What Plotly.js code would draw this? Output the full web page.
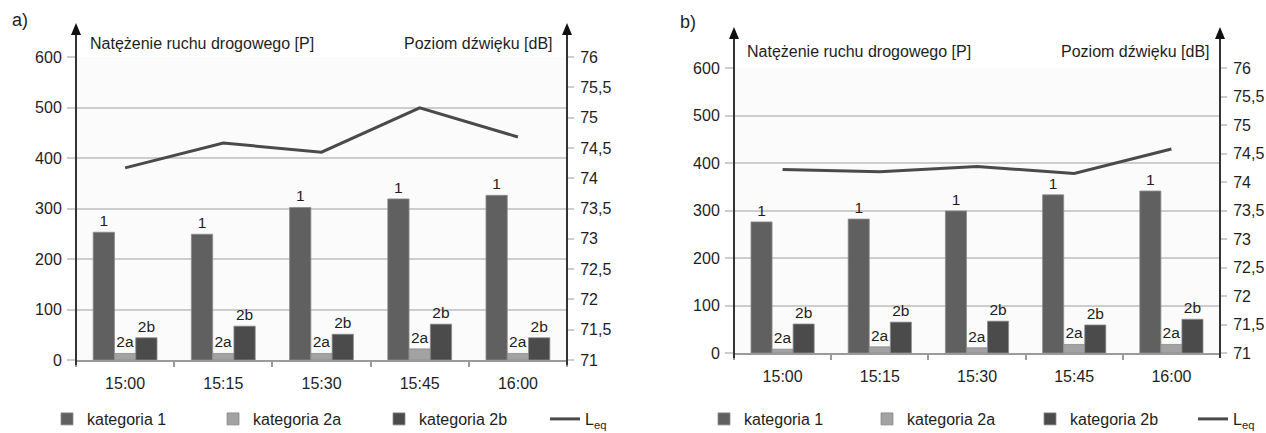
<!DOCTYPE html>
<html>
<head>
<meta charset="utf-8">
<script src="https://cdn.plot.ly/plotly-3.0.1.min.js"></script>
<style>html,body{margin:0;padding:0;background:#fff;}#chart{width:1266px;height:433px;}</style>
</head>
<body>
<div id="chart"></div>
<script>
// ---- data ----
const times = ['15:00', '15:15', '15:30', '15:45', '16:00'];

// panel a)
const a_kat1  = [253, 249, 302, 319, 326];
const a_kat2a = [13, 13, 13, 22, 13];
const a_kat2b = [44, 67, 51, 71, 44];
const a_leq   = [74.17, 74.58, 74.43, 75.16, 74.68];

// panel b)
const b_kat1  = [276, 282, 299, 333, 341];
const b_kat2a = [8, 13, 11, 18, 18];
const b_kat2b = [61, 65, 67, 59, 71];
const b_leq   = [74.22, 74.18, 74.27, 74.15, 74.58];

const barLabels = {k1: '1', k2a: '2a', k2b: '2b'};
const legendNames = ['kategoria 1', 'kategoria 2a', 'kategoria 2b', 'L<sub>eq</sub>'];
const leftTitle = 'Natężenie ruchu drogowego [P]';
const rightTitle = 'Poziom dźwięku [dB]';

// ---- styles ----
const FONT = '"Liberation Sans", Arial, Helvetica, sans-serif';
const TXT = '#1e1e1e';
const C1 = '#606060', C2A = '#a2a2a2', C2B = '#4b4b4b', CL = '#4a4a4a';
const GRID = '#cdcdcd';
const AXC = '#333333';

function bars(xa, ya, vals, name, color, label, legend) {
  return {
    type: 'bar', x: times, y: vals, name: name, xaxis: xa, yaxis: ya,
    marker: {color: color, line: {color: '#8c8c8c', width: 0.8}},
    text: label, textposition: 'outside', constraintext: 'none', cliponaxis: false,
    textfont: {family: FONT, size: 15.5, color: TXT},
    legend: legend, hoverinfo: 'x+y'
  };
}
function leq(xa, ya, vals, legend) {
  return {
    type: 'scatter', mode: 'lines', x: times, y: vals, name: legendNames[3],
    xaxis: xa, yaxis: ya, line: {color: CL, width: 3}, legend: legend
  };
}

const data = [
  bars('x', 'y', a_kat1, legendNames[0], C1, barLabels.k1, 'legend'),
  bars('x', 'y', a_kat2a, legendNames[1], C2A, barLabels.k2a, 'legend'),
  bars('x', 'y', a_kat2b, legendNames[2], C2B, barLabels.k2b, 'legend'),
  leq('x', 'y2', a_leq, 'legend'),
  bars('x2', 'y3', b_kat1, legendNames[0], C1, barLabels.k1, 'legend2'),
  bars('x2', 'y3', b_kat2a, legendNames[1], C2A, barLabels.k2a, 'legend2'),
  bars('x2', 'y3', b_kat2b, legendNames[2], C2B, barLabels.k2b, 'legend2'),
  leq('x2', 'y4', b_leq, 'legend2')
];

const W = 1266, H = 433;
const px = v => v / W, py = v => 1 - v / H;

function xAxis(domain, anchor) {
  return {
    domain: domain, anchor: anchor, type: 'category',
    showline: true, linecolor: '#9a9a9a', linewidth: 2,
    ticks: 'outside', tickson: 'boundaries', ticklen: 5, tickcolor: '#9a9a9a', tickwidth: 2,
    ticklabelstandoff: 8,
    showgrid: false, zeroline: false,
    tickfont: {family: FONT, size: 16, color: TXT}, fixedrange: true
  };
}
function leftAxis(domain, anchor) {
  return {
    domain: domain, anchor: anchor, range: [0, 600], dtick: 100, tick0: 0,
    showline: false,
    ticks: 'outside', ticklen: 8, tickcolor: GRID, tickwidth: 2, ticklabelstandoff: 2,
    showgrid: true, gridcolor: GRID, gridwidth: 2, zeroline: false,
    tickfont: {family: FONT, size: 16, color: TXT}, fixedrange: true
  };
}
function rightAxis(overlay, anchor) {
  return {
    overlaying: overlay, anchor: anchor, side: 'right', range: [71, 76], dtick: 0.5, tick0: 71,
    showline: false,
    ticks: 'outside', ticklen: 6, tickcolor: GRID, tickwidth: 2, ticklabelstandoff: 3,
    showgrid: false, zeroline: false,
    tickfont: {family: FONT, size: 16, color: TXT}, fixedrange: true
  };
}

// plot areas (pixels in the 1266x433 picture)
const A = {l: 76, r: 567, t: 57, b: 360, tip: 23};
const B = {l: 734, r: 1220, t: 68, b: 353, tip: 27};

function axisShapes(P) {
  const out = [];
  [P.l, P.r].forEach(x => {
    out.push({type: 'line', xref: 'paper', yref: 'paper', x0: px(x), x1: px(x),
              y0: py(P.b + 5), y1: py(P.tip + 8), line: {color: AXC, width: 2}, layer: 'above'});
    out.push({type: 'path', xref: 'paper', yref: 'paper', fillcolor: '#111', line: {width: 0},
              path: 'M' + px(x - 5) + ',' + py(P.tip + 12) + ' L' + px(x + 5) + ',' + py(P.tip + 12) +
                    ' L' + px(x) + ',' + py(P.tip) + ' Z', layer: 'above'});
  });
  return out;
}

function label(text, x, y, xanchor, size) {
  return {xref: 'paper', yref: 'paper', x: px(x), y: py(y), xanchor: xanchor, yanchor: 'middle',
          text: text, showarrow: false, font: {family: FONT, size: size, color: TXT}};
}

function legendBox(x, y, ew) {
  return {orientation: 'h', x: px(x), xanchor: 'left', y: py(y), yanchor: 'middle',
          entrywidth: ew, entrywidthmode: 'pixels', bgcolor: 'rgba(0,0,0,0)',
          font: {family: FONT, size: 16, color: TXT}, traceorder: 'normal'};
}

const layout = {
  width: W, height: H, margin: {l: 0, r: 0, t: 0, b: 0, autoexpand: false},
  paper_bgcolor: '#ffffff', plot_bgcolor: '#fbfbfb',
  separators: ', ',
  barmode: 'group', bargap: 0.35, bargroupgap: 0,
  font: {family: FONT, size: 16, color: TXT},
  xaxis: xAxis([px(A.l), px(A.r)], 'y'),
  yaxis: leftAxis([py(A.b), py(A.t)], 'x'),
  yaxis2: rightAxis('y', 'x'),
  xaxis2: xAxis([px(B.l), px(B.r)], 'y3'),
  yaxis3: leftAxis([py(B.b), py(B.t)], 'x2'),
  yaxis4: rightAxis('y3', 'x2'),
  legend: legendBox(47, 419, 121),
  legend2: legendBox(704, 419, 118),
  shapes: axisShapes(A).concat(axisShapes(B)),
  annotations: [
    label('a)', 10, 20, 'left', 18),
    label('b)', 678, 22, 'left', 18),
    label(leftTitle, 88, 43, 'left', 16),
    label(rightTitle, 555, 43, 'right', 16),
    label(leftTitle, 745, 52, 'left', 16),
    label(rightTitle, 1212, 52, 'right', 16)
  ],
  showlegend: true
};

Plotly.newPlot('chart', data, layout, {staticPlot: true, displayModeBar: false});
</script>
</body>
</html>
